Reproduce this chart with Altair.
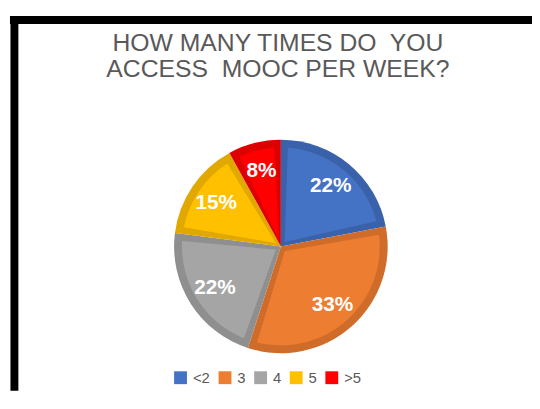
import altair as alt
import pandas as pd

categories = ["<2", "3", "4", "5", ">5"]
percent = [22, 33, 22, 15, 8]
fill_colors = ["#4472C4", "#ED7D31", "#A5A5A5", "#FFC000", "#FF0000"]
edge_colors = ["#3A62AB", "#D06C29", "#8F8F8F", "#E0A800", "#DD0000"]
title_lines = ["HOW MANY TIMES DO\u00a0 YOU", "ACCESS\u00a0 MOOC PER WEEK?"]

df = pd.DataFrame({"cat": categories, "pct": percent, "idx": list(range(len(categories)))})
df["label"] = df["pct"].astype(str) + "%"

cx, cy = 276, 239

base = alt.Chart(df).encode(
    theta=alt.Theta("pct:Q", stack=True),
    order=alt.Order("idx:Q"),
    x=alt.value(cx),
    y=alt.value(cy),
)

edge = base.mark_arc(radius=108).encode(
    color=alt.Color("cat:N", scale=alt.Scale(domain=categories, range=edge_colors), legend=None)
)

light = base.mark_arc(radius=100, radius2=6, padAngle=0.14).encode(
    color=alt.Color(
        "cat:N",
        scale=alt.Scale(domain=categories, range=fill_colors),
        legend=alt.Legend(
            orient="none", legendX=167, legendY=364, direction="horizontal", title=None,
            symbolType="square", symbolSize=169, symbolStrokeWidth=0,
            labelFontSize=15, labelFont="Liberation Sans", labelColor="#595959",
            labelOffset=5, columnPadding=7,
        ),
    )
)

text = base.mark_text(
    radius=79, fontSize=21, fontWeight="bold", color="white", font="Liberation Sans"
).encode(text="label:N")

title_df = pd.DataFrame({"t": ["\n".join(title_lines)]})
title = alt.Chart(title_df).mark_text(
    lineBreak="\n", lineHeight=27, fontSize=25, font="Liberation Sans",
    color="#595959", baseline="top", align="center",
).encode(text="t:N", x=alt.value(273), y=alt.value(21))

frame = pd.DataFrame({"k": [0]})
top_bar = alt.Chart(frame).mark_rule(color="black", strokeWidth=8).encode(
    x=alt.value(2), x2=alt.value(530), y=alt.value(10)
)
left_bar = alt.Chart(frame).mark_rule(color="black", strokeWidth=8).encode(
    x=alt.value(6.5), y=alt.value(6), y2=alt.value(385)
)

chart = alt.layer(top_bar, left_bar, edge, light, text, title).resolve_scale(
    color="independent"
).properties(
    width=530,
    height=385,
    padding=0,
    autosize=alt.AutoSizeParams(type="none"),
).configure_view(stroke=None)

chart.save("out.html", embed_options={"renderer": "svg", "actions": False})
